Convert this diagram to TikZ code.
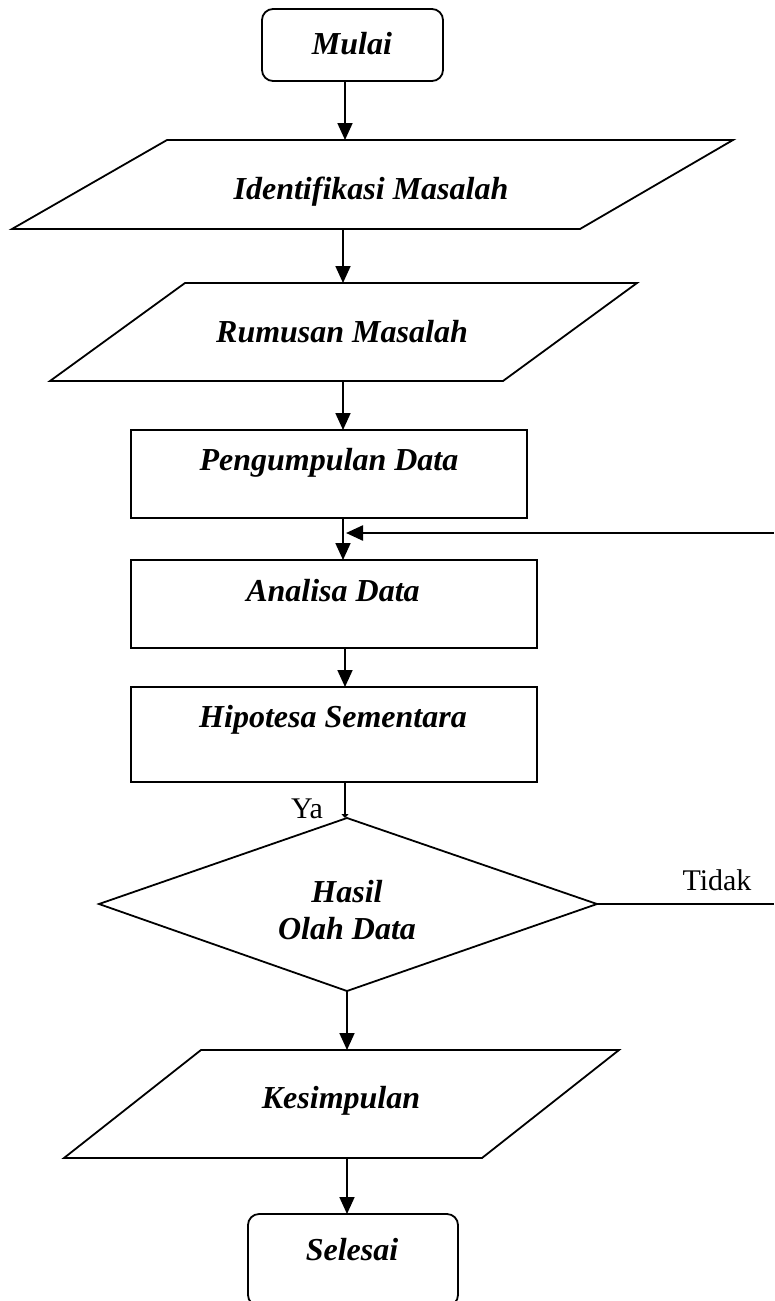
\documentclass[tikz,border=0pt]{standalone}
\usepackage{fontspec}
\setmainfont{Liberation Serif}
\usetikzlibrary{arrows.meta}
\begin{document}
\begin{tikzpicture}[x=1pt,y=-1pt,
  box/.style={line width=1.8pt, line join=miter},
  conn/.style={line width=1.8pt,-{Triangle[length=17pt,width=15pt]}},
  smallconn/.style={line width=1.8pt,-{Triangle[length=4pt,width=7pt]}},
  plain/.style={line width=1.8pt},
  lbl/.style={font=\fontsize{32}{37}\selectfont\bfseries\itshape, inner sep=0pt, align=center},
  note/.style={font=\fontsize{30}{33}\selectfont, inner sep=0pt}]
\useasboundingbox (0,0) rectangle (774,1301);

% Mulai
\draw[box, rounded corners=11] (262,9) rectangle (443,81);
\node[lbl] (tmulai) at (352,44) {Mulai};
\coordinate (mulaiS) at (345,81);

% Identifikasi Masalah
\draw[box] (167,140) -- (733,140) -- (580,229) -- (12,229) -- cycle;
\node[lbl] (tident) at (371,192) {Identifikasi Masalah};
\coordinate (identN) at (345,140);
\coordinate (identS) at (343,229);

% Rumusan Masalah
\draw[box] (185,283) -- (637,283) -- (503,381) -- (50,381) -- cycle;
\node[lbl] (trum) at (342,332) {Rumusan Masalah};
\coordinate (rumN) at (343,283);
\coordinate (rumS) at (343,381);

% Pengumpulan Data
\draw[box] (131,430) rectangle (527,518);
\node[lbl] (tpeng) at (329,463) {Pengumpulan Data};
\coordinate (pengN) at (343,430);
\coordinate (pengS) at (343,518);

% Analisa Data
\draw[box] (131,560) rectangle (537,648);
\node[lbl] (tana) at (333,591) {Analisa Data};
\coordinate (anaN) at (343,560);
\coordinate (anaS) at (345,648);

% Hipotesa Sementara
\draw[box] (131,687) rectangle (537,782);
\node[lbl] (thip) at (333,720) {Hipotesa Sementara};
\coordinate (hipN) at (345,687);
\coordinate (hipS) at (345,782);

% Decision
\draw[box] (347,818) -- (597,904) -- (347,991) -- (99,904) -- cycle;
\node[lbl] (thasil) at (347,910) {Hasil\\Olah Data};
\coordinate (decN) at (345,818);
\coordinate (decE) at (597,904);
\coordinate (decS) at (347,991);

% Kesimpulan
\draw[box] (201,1050) -- (619,1050) -- (482,1158) -- (64,1158) -- cycle;
\node[lbl] (tkes) at (341,1101) {Kesimpulan};
\coordinate (kesN) at (347,1050);
\coordinate (kesS) at (347,1158);

% Selesai
\draw[box, rounded corners=11] (248,1214) rectangle (458,1306);
\node[lbl] (tsel) at (352,1250) {Selesai};
\coordinate (selN) at (347,1214);

% feedback
\coordinate (fbR) at (774,533);
\coordinate (fbL) at (346,533);
\coordinate (tidakR) at (774,904);

% connectors
\draw[conn] (mulaiS) -- (identN);
\draw[conn] (identS) -- (rumN);
\draw[conn] (rumS) -- (pengN);
\draw[conn] (pengS) -- (anaN);
\draw[conn, line width=2.4pt] (fbR) -- (fbL);
\draw[conn] (anaS) -- (hipN);
\draw[smallconn] (hipS) -- (decN);
\draw[plain] (decE) -- (tidakR);
\draw[conn] (decS) -- (kesN);
\draw[conn] (kesS) -- (selN);

% labels
\node[note] (ya) at (307,809) {Ya};
\node[note] (tidak) at (717,880) {Tidak};
\end{tikzpicture}
\end{document}
